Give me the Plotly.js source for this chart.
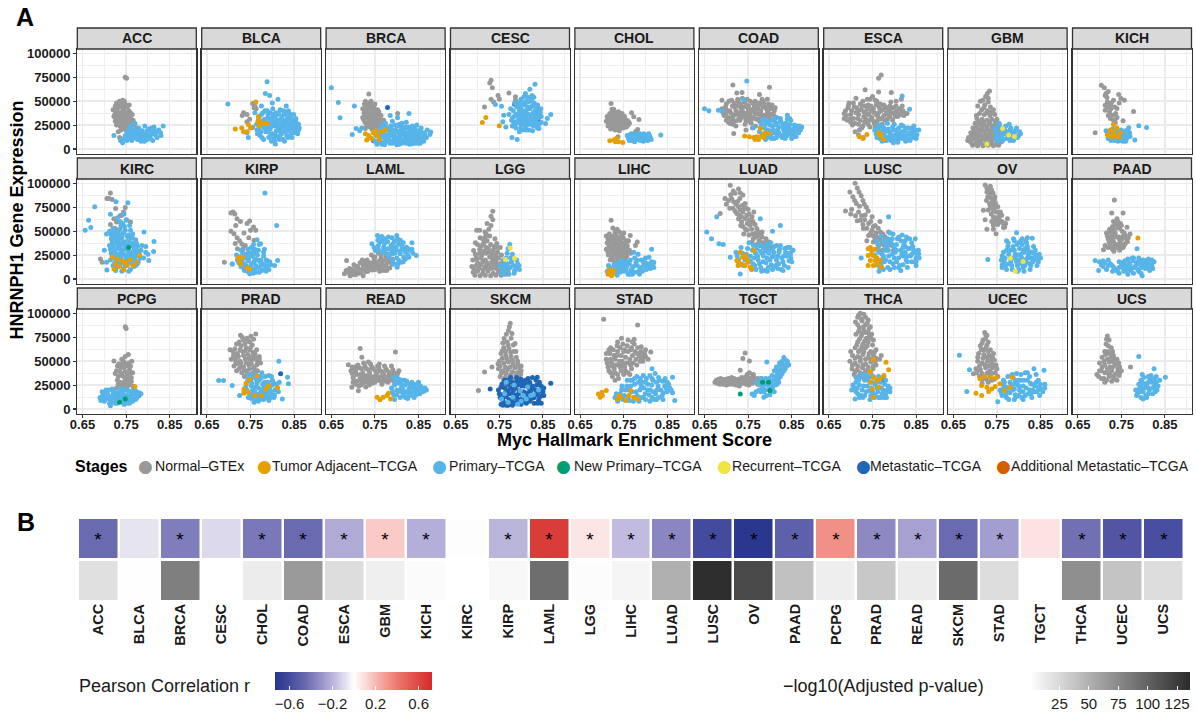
<!DOCTYPE html>
<html><head><meta charset="utf-8">
<script src="https://cdn.plot.ly/plotly-3.0.1.min.js"></script>
<style>html,body{margin:0;padding:0;background:#fff}#chart{width:1196px;height:721px}</style>
</head><body><div id="chart"></div>
<script>
// ---------------- DATA ----------------
const cancers = ['ACC','BLCA','BRCA','CESC','CHOL','COAD','ESCA','GBM','KICH','KIRC','KIRP','LAML','LGG','LIHC','LUAD','LUSC','OV','PAAD','PCPG','PRAD','READ','SKCM','STAD','TGCT','THCA','UCEC','UCS'];
const stageKeys = ['N','A','P','NP','R','M','AM'];
const stageLabels = ['Normal–GTEx','Tumor Adjacent–TCGA','Primary–TCGA','New Primary–TCGA','Recurrent–TCGA','Metastatic–TCGA','Additional Metastatic–TCGA'];
const stageColors = ['#999999','#E69F00','#56B4E9','#009E73','#F0E442','#1F66B5','#D55E00'];
// points: pairs of (enrichment score x1000, expression / 1000)
const ACC = {
 N:[728,48,735,50,742,51,748,47,738,44,730,42,745,43,752,44,756,40,726,38,734,38,741,39,749,38,758,36,722,34,730,33,737,34,744,35,751,33,760,32,766,30,725,29,733,29,740,30,748,29,755,28,762,27,770,25,728,25,736,24,744,25,752,24,760,22,738,20,747,21,755,19,735,12,748,75,751,74,720,41,757,46,764,36,732,18,745,31,739,27,753,30,742,46,733,45,
    725,45,739,48,746,50,731,36,744,41,754,37,727,31,735,31,743,33,750,27,758,30,732,27,746,26,757,24,764,28,741,22,750,20,724,36,760,38],
 P:[722,14,737,9,742,6.5,748,14,752,18,756,12,760,16,763,9,767,20,770,13,773,17,776,10,779,22,781,15,784,8,787,19,790,12,793,24,796,16,799,10,802,21,805,14,808,18,811,9,814,23,817,15,821,12,825,20,829,17,835,24,760,24,770,27,752,9,778,12,792,8,806,11,766,15,786,14,798,19,775,19,782,11,758,20,
    745,11,755,15,765,11,772,21,780,17,790,16,800,14,810,16,820,18,830,14,795,12,785,11,808,22,775,14,762,13,816,19]
};
const BLCA = {
 N:[755,47.5,758,43,763,42,734,38,731,35,748,31,742,28.5,755,22.5,742,36,760,45],
 A:[762,49,715,21,730,22,734,18,742,18,745,25.7,768,33.7,770,30,770,24,784,27,788,26.7,767,28.5,776,27,750,22],
 P:[698,47,788,70.4,784,58,794,56,813,52,832,45,807,5.2,745,12,742,17,775,45,800,48,760,38,765,20,768,30,772,14,775,36,778,25,780,10,783,40,785,18,788,32,790,22,792,12,795,38,797,28,799,16,801,42,803,24,805,9,807,34,809,19,811,29,813,13,815,38,817,24,819,31,821,16,823,27,825,10,827,36,829,21,831,30,833,14,835,25,837,40,839,19,841,33,843,27,845,12,847,22,849,36,851,17,853,29,855,24,857,20,860,26,795,21,810,24,820,22,830,26,800,32,815,19,825,30,805,27,790,27,840,24,770,22,782,31,850,30,835,34,812,36,798,8,828,8,843,16,862,22,818,41,
    764,26,770,34,774,18,778,38,782,22,786,28,790,36,794,13,798,24,802,36,806,16,810,30,814,22,818,14,822,34,826,24,830,18,834,30,838,22,842,36,846,28,850,20,854,32,858,16,780,30,790,18,800,28,812,26,824,20,836,26,848,25,796,32,808,38,820,26,832,38,844,31,856,27,804,12,816,10,836,12,776,12,788,40,826,40,860,20,766,16,772,26]
};
const BRCA = {
 N:[726,47,734,48,742,46,750,47,722,42,731,43,739,42,748,43,756,41,725,38,733,38,741,37,749,38,757,37,764,35,722,33,730,33,738,32,746,33,754,32,762,31,770,30,727,28,735,28,743,27,751,28,759,27,767,26,774,24,731,24,739,23,747,24,755,22,763,21,736,57.6,728,50,741,50,802,37,793,15.6,728,21.5,745,45,753,35,738,36,
    729,45,737,44,745,41,752,40,728,35,736,34,744,30,752,30,760,33,766,29,733,26,741,25,749,26,757,25,770,27,743,21,751,20,760,24,724,31,731,40,759,39,738,29],
 A:[728,16,731,9.4,739,12,746,17,756,14,765,18,774,20,742,11,735,14,760,10,752,19],
 P:[650,64,666,48.6,670,32.6,703,45,698,15.3,707,21.5,720,22,828,37,802,32.6,862,17,876,15.3,878,17.7,715,19,785,35,750,8,755,5,760,12,764,7,768,16,772,4.5,776,10,780,21,784,6,788,14,792,9,796,25,800,4.5,804,17,808,11,812,6,816,20,820,13,824,8,828,23,832,15,836,5.5,840,11,844,18,848,8,852,14,856,22,860,10,864,16,868,12,758,18,766,24,774,27,782,14,790,29,798,12,806,26,814,9,822,28,830,5,838,20,846,25,854,6,842,14,826,17,810,23,794,18,778,15,762,21,786,24,818,16,834,10,850,19,870,20,802,8,770,12,
    752,14,758,9,762,16,766,5,770,19,774,8,778,20,782,10,786,17,790,6,794,13,798,20,802,11,806,5,810,15,814,19,818,10,822,6,826,12,830,20,834,15,838,8,842,22,846,12,850,6,854,18,858,13,862,8,788,21,800,24,812,27,824,22,836,24,848,17,766,13,780,8,796,7,808,19,820,23,832,10,844,6,856,16,776,23,792,16,804,13,816,8,828,16,840,18,852,10,864,12],
 M:[779,43.4,747,8.7]
};
const CESC = {
 N:[731,71.8,728,69,734,64,716,44,731,52,737,49,747,56,750,52,772,58.6,787,54.5,787,51],
 A:[711,27.8,719,33,750,24.3],
 P:[832,67.7,820,62.5,868,36,860,32,856,26.7,760,35.4,758,28.5,779,12,791,10,741,46.5,755,44.8,765,23,841,21.5,825,56,810,58,800,52,778,30,782,40,785,48,788,22,791,35,794,44,797,27,800,52,803,38,805,20,808,46,811,31,813,25,816,42,819,35,822,50,825,28,828,38,831,45,834,31,837,22,840,40,843,34,846,28,780,24,790,28,796,18,802,30,810,24,818,20,826,19,833,25,799,43,807,55,815,49,829,54,838,46,820,42,784,34,812,38,836,37,794,37,823,32,806,34,776,42,845,42,772,36,
    780,32,786,26,790,44,793,30,796,40,799,22,802,46,804,28,807,40,810,34,812,50,814,28,817,36,820,26,822,44,825,36,828,30,830,48,832,40,835,28,838,34,841,26,844,38,798,34,808,28,818,30,828,24,838,42,815,44,805,48,795,48,824,52,812,20,800,26,788,36,783,28,846,34,826,45,816,54,832,34],
 M:[842,28.5,785,46.8]
};
const CHOL = {
 N:[712,34,718,37,725,39,732,38,739,36,746,37,752,34,710,29,716,31,722,32,729,33,736,31,743,30,750,28,757,30,763,27,714,24,721,26,728,27,735,25,742,24,749,22,756,23,720,21,730,20,740,19,760,25,721,47.5,723,41.6,727,41.6,768,37.8,773,33.7,785,30.9,782,20.5,777,18,765,14.6,737,12.8,733,34,745,33,
    715,27,719,36,726,35,735,35,742,33,748,31,755,27,760,29,718,29,724,28,731,29,738,27,745,27,752,25,726,23,733,22,740,22,747,25,714,32,729,37,738,39],
 P:[758,14,763,9,767,16,771,11,775,7.6,779,14,783,10,787,16,791,12,795,8,799,14,803,11,807,16,811,12,835,14.6,770,13,788,9,797,11,780,12,805,9,765,12,793,15,
    761,11,769,9,773,15,777,10,782,16,785,13,789,11,794,13,801,13,809,14,813,10,796,16,776,13],
 A:[718,8.7,727,9.4,733,11,738,7.6,748,6.9,731,7.6]
};
const COAD = {
 N:[690,42,695,35,700,47,705,28,708,40,712,51,715,33,718,44,722,24,725,38,728,49,731,30,734,42,737,53,740,35,743,26,746,46,749,38,752,29,755,50,758,41,761,33,764,45,767,24,770,37,773,48,776,29,779,40,782,52,785,34,788,44,791,27,794,38,797,47,800,31,803,42,806,36,810,40,814,33,700,38,710,32,720,36,730,45,740,44,750,42,760,48,770,44,780,32,790,46,700,30,715,26,735,33,755,34,775,36,795,34,745,30,725,45,765,38,785,49,715,67,736,59,724,58.6,799,64.5,776,57,690,51,794,52,717,16.3,709,26.7,760,22,745,20,
    693,38,698,44,703,33,706,50,711,37,714,45,719,29,722,40,726,52,729,34,733,47,738,39,742,49,747,33,751,45,754,37,757,27,762,41,766,50,769,31,772,42,777,46,781,36,784,44,788,35,792,42,796,39,799,44,802,36,805,46,809,35,812,43,700,41,718,48,732,38,748,52,764,33,780,48,796,29,712,28,726,30,742,37,758,31,774,31,808,30],
 P:[776,18,780,26,784,13,788,22,792,30,796,16,800,25,804,11,808,20,812,28,816,15,820,23,824,32,828,12,832,19,836,27,840,14,844,22,848,30,852,17,856,25,860,13,864,20,868,24,790,10,810,11,830,26,850,11,820,17,800,19,840,31,786,31,815,33,835,20,845,18,747,71,650,42,660,40,682,40.6,690,39.6,740,51.7,840,35.4,873,23,762,22.5,
    778,22,782,30,786,16,790,26,794,20,798,28,802,14,806,24,810,17,814,25,818,20,822,28,826,14,830,22,834,16,838,24,842,19,846,26,850,15,854,21,858,18,862,24,866,17,805,30,825,29,845,32,795,12,815,12,835,11,855,13,870,20],
 A:[742,13.5,753,12.8,763,12,770,12.8,774,10,781,14,789,17,797,16,778,21.5,772,11,786,12,766,10]
};
const ESCA = {
 N:[688,40,692,30,696,48,700,36,704,25,708,44,712,53,716,32,720,20,724,41,728,50,732,28,736,37,740,46,744,23,748,33,752,42,756,51,760,29,764,38,768,47,772,26,776,35,780,44,784,31,788,40,792,49,796,30,800,38,804,45,808,34,812,42,816,36,820,40,826,37,700,28,712,38,722,47,734,45,746,40,758,36,770,40,782,38,794,43,706,32,718,26,730,34,742,30,754,27,766,31,750,55,738,52,725,22,710,18,770,77.4,764,74,733,62,764,59.7,793,59,695,45.8,685,37,685,32,816,52,829,37,718,14.6,729,12.1,
    690,35,694,43,698,31,702,40,706,48,710,27,714,43,718,36,722,30,726,45,730,39,734,32,738,42,742,36,746,45,750,30,754,38,758,46,762,34,766,43,770,32,774,41,778,30,782,43,786,36,790,34,794,38,798,43,802,34,806,40,810,38,814,40,818,45,822,35,728,24,740,26,756,24,716,40,744,52,760,50,776,46,790,45,804,50],
 P:[755,20,760,12,764,25,768,16,772,8,776,22,780,13,784,27,788,18,792,9,796,23,800,14,804,20,808,7,812,17,816,25,820,11,824,19,828,14,832,22,836,9,840,17,844,12,848,20,852,15,790,13,812,11,826,8,800,26,770,19,845,24,818,55.5,835,41.6,856,19.8,798,6.6,
    758,16,762,21,766,11,770,24,774,16,778,18,782,9,786,21,790,17,794,14,798,20,802,9,806,16,810,22,814,13,818,18,822,14,826,22,830,10,834,17,838,13,842,20,846,16,850,11,820,24,808,12,796,10,786,12,776,9,840,22],
 A:[720,12.8,728,11,737,15.3,764,17,768,13.9,775,10,770,15]
};
const GBM = {
 N:[733,60.7,728,58,724,55,718,51,712,50,730,49,706,45,722,46,735,44,715,41,729,40,742,41,710,37,721,36,734,35,745,36,704,32,716,31,727,30,738,31,750,31,700,27,711,26,722,25,733,26,744,25,755,26,695,22,706,21,717,20,728,21,739,20,750,21,760,22,690,17,701,16,712,15,723,16,734,15,745,16,756,17,766,16,685,12,696,11,707,10,718,11,729,10,740,11,751,12,762,10,690,7,700,5,712,6,724,5,736,6,748,5,758,7,683,9,698,14,709,19,
    703,35,726,38,739,38,708,29,719,28,733,28,746,29,703,24,716,23,727,23,739,23,750,24,698,19,711,18,722,18,733,18,744,18,756,20,692,14,704,13,715,13,726,13,737,13,748,13,760,13,688,9,702,8,714,8,726,8,738,8,750,8,762,8,694,4,706,3.5,718,3.5,730,4,742,3.5,754,4,720,43,730,53,737,39],
 P:[745,22,750,14,755,27,760,18,765,10,770,24,775,15,780,20,785,12,790,17,795,22,800,14,804,16,758,12,768,19,778,26,788,9,752,8,772,11,783,17,
    748,18,757,23,762,15,767,21,773,18,777,12,782,22,787,15,792,19,797,12,802,18,762,9,780,9,748,11],
 R:[763,21.5,777,14.6,727,5.2,790,13]
};
const KICH = {
 N:[704,66.6,711,64,715,58,717,53.8,744,57,732,51,749,52.7,757,51,713,45.8,725,45.8,735,44,740,42.3,713,40.6,723,38.9,730,35.4,740,33,725,32,732,30,754,29.5,778,39.2,690,17,736,27.4,720,35,718,49,
    720,60,713,56,727,48,737,37,726,42,745,48,718,44,735,30],
 P:[715,19,720,11,727,16,734,9,740,18,745,12,750,20,754,8,758,15,762,11,766,18,770,13,738,10,748,14,756,10,730,21,742,8,760,19,790,24.3,808,22.5,781,9.4,767,22.2,
    718,16,724,12,731,14,737,17,744,16,751,13,757,12,763,15,769,17,726,9,748,9,760,8,735,12,753,17],
 A:[718,15,725,20,732,18,740,22,728,12.8,736,14,722,14,748,17,732,25.7,744,12]
};
const KIRC = {
 N:[714,90,706,84,711,84,718,83,726,73.7,748,74.8,744,70,740,66.7,752,61.4,760,59.7,728,59.7,714,57,725,52.7,733,51,721,49,737,59.7,730,40.4,732,35.8,691,21,695,17.5,736,66,722,63],
 P:[712,50,720,53,728,47,736,52,744,48,752,45,760,51,716,42,724,44,732,40,740,43,748,39,756,42,764,38,772,41,712,35,720,34,728,37,736,33,744,36,752,32,760,35,768,31,776,34,716,27,724,29,732,26,740,30,748,25,756,28,764,24,772,27,780,26,714,20,722,22,730,18,738,23,746,19,754,21,762,17,770,20,778,18,720,14,728,12,736,15,744,11,752,14,760,10,768,13,776,16,742,58,750,62,735,60,758,56,765,47,784,30,790,22,730,64,745,68,656,51,664,61.4,669,53.7,678,75.5,727,80.7,754,79.7,714,67.7,814,39.3,813,28.8,802,19.3,705,17.5,706,9.5,791,49,795,34,800,26,705,47,700,30,
    716,46,724,49,732,43,740,46,748,51,756,46,764,43,718,38,726,41,734,36,742,39,750,35,758,38,766,35,774,37,714,31,722,31,730,32,738,28,746,31,754,30,762,28,770,30,778,29,718,24,726,25,734,22,742,27,750,23,758,25,766,22,774,24,782,22,724,17,732,14,740,17,748,15,756,18,764,16,772,14,740,8,756,8,726,9,760,45,738,56,746,55,733,47,786,35,795,28],
 A:[718,22.8,730,21,726,15.8,734,13,722,10.5,748,17.5,759,20,766,14,774,17.5,781,24.6,741,19,752,14,744,9.5],
 NP:[756,33]
};
const KIRP = {
 N:[710,70,705,69,714,68,719,63,727,60,742,58,748,60.7,757,54.4,750,51,762,51,712,47.4,719,43,725,40,730,36.5,720,31.6,733,32,758,40.4,746,43,690,17.5,708,15.8,715,37,738,35,731,30,742,26.3,705,50,716,56,735,48],
 P:[718,25,723,17,728,30,733,12,738,22,743,8,748,27,752,16,756,6,760,21,764,12,768,30,772,18,776,9,780,24,784,14,788,19,792,10,796,15,740,14,750,10,762,27,770,7,774,14,758,10,745,19,766,20,730,19,786,8,783,90,810,56,812,19.3,805,14,773,36.9,765,41,755,28,708,15.8,782,31,
    720,20,726,23,732,27,736,16,740,26,746,22,750,13,754,24,758,18,762,14,766,25,770,12,774,20,778,16,782,10,786,20,790,14,794,18,744,31,752,33,760,31,748,5.5,762,7,736,9,728,13,780,28,757,36,770,36],
 A:[721,22,726,17.5,742,11.6,748,10.5,731,22.8,727,15.8]
};
const LAML = {
 N:[685,19.3,680,5.5,689,7,697,4.5,705,8.5,713,6,721,10,729,7.5,736,12,744,9.5,752,14,759,11.5,767,16,775,13.5,782,18,789,15.5,782,22.8,740,16,721,20,698,10,710,13,729,15,747,18,762,20,775,24,750,23,758,27,785,26.5,790,21,784,11.5,761,8,693,3.5,723,3.5,770,9,
    684,9,692,11,700,6,707,13,715,10,723,14,731,11,738,17,746,13,754,18,762,15,770,20,778,17,786,20,702,15,716,17,732,20,748,22,764,24,780,22,692,6,706,4.5,718,7,734,8,750,10,766,12,777,9,727,18,742,25,756,30,771,28,791,18],
 P:[756,45.6,766,44.5,781,44,800,45.6,808,40.4,757,40.4,743,36.8,751,29.8,770,33.3,787,35,799,33.3,811,35,822,33.3,830,29.8,845,24.6,828,22.8,816,22.8,805,19.3,793,15.8,801,12.3,778,26.3,766,28,789,26.3,772,37,820,28,808,26.3,790,29.8,780,31.6,810,17.5,762,38.6,795,40,835,38,
    760,43,773,42,789,43,802,42,815,38,748,33,758,35,765,40,779,39,792,37,804,37,816,31,826,32,837,27,758,31,774,31,785,32,797,30,812,31,825,25,815,18,800,22,790,20,782,23,770,30,803,16,796,27,807,29,820,21,835,31,790,33]
};
const LGG = {
 N:[735,70.9,731,65.6,722,58,731,56,698,50.9,705,50.9,717,49,712,42,691,29.8,715,38,722,40,700,36,708,34,720,33,730,36,738,34,695,26,705,27,715,29,726,28,736,30,746,28,689,20,698,21,708,22,718,20,728,23,738,21,748,22,758,19,687,13,697,14,707,15,717,13,727,14,737,15,747,14,757,12,767,14,690,7,700,8,712,6,724,8,736,6,748,7,760,6,770,8,728,45,740,42,720,47,744,37,752,33,
    726,52,735,62,718,44,706,43,695,38,705,31,725,32,735,26,745,33,700,17,712,18,722,17,733,18,743,18,753,16,762,11,692,10,703,11,713,10,723,11,733,11,743,11,752,9,765,5,694,4,706,3.5,718,4,730,3.5,742,4,754,4,697,24,710,25,731,23,742,25,755,25,720,27,712,36],
 P:[752,14,760,20,768,27,774,36,770,31.6,780,26,790,20,795,14,785,9,775,12,765,10,756,7,778,18,788,12,762,16,
    758,11,770,16,782,14,792,16,776,22,766,22,760,5,772,5,784,6,796,10,768,13],
 R:[775,32.3,785,21.8,764,20.4]
};
const LIHC = {
 N:[721,61.4,725,53.4,765,45.6,781,38.6,777,35,710,45,717,47,724,44,731,46,738,43,745,45,712,38,719,40,726,37,733,39,740,36,747,38,754,36,761,40,710,31,717,33,724,30,731,32,738,29,745,31,752,28,759,31,715,25,722,23,729,26,736,22,743,25,750,21,757,24,766,27,735,18,745,17,
    714,42,721,45,728,41,735,44,742,40,749,43,756,40,716,35,723,35,730,35,737,33,744,35,751,33,758,35,714,28,721,28,728,29,735,28,742,27,749,27,756,28,763,30,719,20,726,20,733,24,740,24,747,23,754,22,730,49,740,49,750,48,735,52],
 P:[712,8,718,12,724,6,730,10,736,14,742,7,748,11,754,15,760,5,766,9,772,13,778,17,784,8,790,12,796,16,802,10,808,14,814,18,819,12,745,19,760,18,775,22,770,5,790,20,800,22,728,16,755,9,735,4,814,31.2,808,22.8,819,17.5,773,28,783,26,
    715,14,721,9,727,13,733,7,739,11,745,15,751,8,757,13,763,16,769,11,775,7,781,14,787,10,793,8,799,13,805,16,811,11,817,15,750,18,765,20,780,20,795,19,738,17,764,5,786,5,800,17],
 A:[719,7,725,5.3,716,9.8,727,8.8,722,3.5,714,5]
};
const LUAD = {
 N:[709,98,728,94,720,89.5,738,87.8,697,84,705,82,717,80.7,743,79,728,75.5,686,68.4,724,68.4,747,66.7,759,65,735,59.7,754,56.2,770,52.7,747,50.9,782,49,766,43.9,791,42,798,38.6,759,38.6,778,35,801,33.3,728,63,755,61.4,732,72,763,70,740,47,772,45,785,38,805,31.6,750,73,715,74,726,81,760,47,738,55,775,40,710,88,700,78,
    716,92,732,90,712,84,731,84,722,78,737,77,708,74,720,71,745,74,738,70,752,68,729,67,743,63,761,60,733,56,748,58,766,57,744,52,758,52,774,49,752,46,768,48,782,44,762,42,776,40,792,37,770,36,785,33,796,33,757,58,735,65,741,74,753,62,780,45,789,36],
 P:[722,28,728,20,734,33,740,14,746,26,752,38,758,10,764,22,770,32,776,16,782,27,788,9,794,36,800,20,806,30,812,13,818,24,824,35,830,18,836,28,842,12,848,22,853,30,760,30,772,24,784,18,796,12,808,24,820,16,832,24,844,19,790,29,815,35,778,36,802,38,765,14,755,19,826,10,840,33,678,65,655,49,666,42,683,36.8,693,36,732,5.3,709,22.8,778,63,824,56,806,50,851,29.8,847,26,
    725,24,731,15,737,27,743,20,749,32,755,24,761,16,767,27,773,20,779,12,785,24,791,17,797,27,803,15,809,28,815,20,821,28,827,22,833,14,839,24,845,27,850,18,762,35,774,35,786,33,798,31,810,34,822,31,834,32,846,33,768,10,781,8,794,8,806,10,818,11,830,9,778,29,805,23,793,22,815,15],
 A:[732,28,743,24.6,747,21,724,19.3,735,15.8,728,17.5,755,12.3,743,14,727,14,750,17.5,758,10.5,737,22.8,763,29.8]
};
const LUSC = {
 N:[710,100,698,91,719,91,705,86,728,82,713,79,736,75,688,71,718,70,733,67,749,65,722,61.5,741,58,756,56,729,52.7,749,51,768,49,741,45.6,760,43.9,779,43.9,752,38.6,771,36.9,790,40.4,782,33.3,798,30,763,31.6,787,49,737,40,702,73,767,60,
    715,95,724,87,709,82,720,76,731,78,700,68,711,66,725,66,740,71,715,61,732,62,746,60,737,53,752,55,763,53,746,48,758,48,774,47,756,42,768,41,784,38,762,36,777,35,793,35,786,30,773,30,752,45,728,57],
 P:[755,25,760,15,765,35,770,20,775,10,780,30,785,42,790,18,795,26,800,12,805,36,810,22,815,30,820,15,825,40,830,24,835,32,840,18,845,28,850,22,855,30,770,45,790,48,810,44,800,32,820,33,775,24,795,36,840,38,785,12,815,9,765,8,830,12,850,14,805,18,780,38,760,40,825,28,787,65,724,22,848,42,856,26.3,797,47,
    758,20,762,30,767,12,772,26,777,18,782,34,787,24,792,38,797,16,802,28,807,42,812,14,817,26,822,36,827,20,832,32,837,24,842,34,847,18,852,26,857,22,775,40,795,42,815,40,835,42,765,28,785,30,805,30,825,34,845,30,780,20,800,22,820,24,840,26,770,16,790,10,810,12,830,18,850,18,818,46,828,44],
 A:[740,31.6,748,29.8,740,24.6,752,24.6,745,19.3,756,19.3,740,14,752,14,763,15.8,771,12.3,760,22,748,26,767,19.3,745,33,755,31]
};
const OV = {
 N:[723,98.3,735,97,731,93,741,90,729,86,739,82.5,747,79,735,75.5,719,71.9,742,71.9,753,70,761,66.7,742,64.9,750,61.4,758,59.7,774,63,742,56.2,727,52,748,47.4,765,53.7,733,79,727,91,745,86,752,75.5,756,66,768,54.4,737,68,745,60,
    727,95,738,93,733,89,744,83,736,85,726,82,740,78,746,75,730,72,738,75,748,70,758,70,738,60,747,64,755,63,762,60,752,57,742,52,765,58,770,58,723,62],
 P:[760,20,765,28,770,14,775,34,780,22,785,10,790,30,795,18,800,38,805,26,810,12,815,32,820,22,825,16,830,28,835,20,840,24,845,18,850,22,772,40,788,42,800,10,768,22,782,30,798,25,812,20,828,14,818,38,810,30,778,16,792,22,806,16,822,30,838,30,762,12,830,22,808,42,729,20.4,795,48.4,820,43,831,42.5,762,15,
    762,24,767,18,772,30,777,26,782,18,787,34,792,26,797,14,802,32,807,22,812,28,817,18,822,26,827,22,832,18,837,26,842,20,847,26,772,10,784,14,796,36,808,36,820,34,834,34,788,22,800,20,814,14,826,10,842,14,776,38,790,40,805,40,816,40,812,8,798,8],
 R:[781,21.8,810,18.2,792,8.1]
};
const PAAD = {
 N:[734,82.5,728,69,754,69,709,30.5,713,35,763,54,716,48,723,52,730,55,738,57,746,53,752,50,720,42,728,45,736,48,744,44,752,42,760,45,724,37,732,39,740,36,748,38,756,35,764,39,730,31,738,33,746,30,754,33,742,60,770,47,
    718,45,726,49,734,51,742,54,750,56,757,48,722,39,730,42,738,44,746,41,754,45,762,42,727,34,735,36,743,33,751,35,759,37,720,33,733,29,748,32,740,63,732,60,748,58,766,43],
 P:[700,18,708,13,716,10,725,16,733,12,741,8,750,14,758,19,764,10,770,15,775,22,780,12,785,17,790,8,795,14,800,20,805,11,810,16,815,9,820,14,825,18,765,5,778,6,790,19,760,14,772,9,745,18,755,11,800,13,812,21,786,31.6,798,3.5,690,19.3,698,8.8,708,19,720,20,
    704,15,712,17,720,14,729,14,737,10,745,12,753,17,761,11,767,17,772,12,777,19,783,14,788,10,792,16,797,12,802,17,807,14,812,12,818,17,822,11,778,22,765,21,756,8,745,6,730,8,790,22,805,19,820,20,795,6],
 A:[788,42.8]
};
const PCPG = {
 N:[748,86,750,84,722,50.2,763,49.8,735,12.3,730,45,740,52,748,55,755,48,735,40,745,43,758,41,725,37,740,35,752,36,762,33,730,30,745,28,758,28,738,25,752,23,745,20,728,22,765,24,740,47,755,57,
    733,47,744,50,752,45,760,45,728,40,738,38,748,39,756,37,765,38,732,34,746,33,755,32,736,28,750,30,762,29,742,24,756,25,732,26,749,26,738,44,749,47],
 P:[690,12,695,18,700,8,705,14,710,20,715,10,720,16,725,6,730,12,735,18,740,9,745,15,750,11,755,19,760,13,765,8,770,16,775,12,780,17,714,3.5,698,12,708,11,718,21,728,17,742,21,752,6,762,18,772,10,738,13,700,15,
    692,9,697,15,702,11,707,17,712,13,717,7,722,12,727,9,732,15,737,11,742,16,747,8,752,14,757,10,762,16,767,12,772,19,777,14,704,20,720,20,736,21,750,20,766,20,712,6,730,6,745,5,758,6,724,14,740,12,760,10,784,16],
 A:[770,23.5],
 M:[779,14,714,10.5],
 NP:[735,7,748,10.5]
};
const PRAD = {
 N:[762,78.3,727,77.2,742,74,751,76,734,72,748,70,718,68,728,66,740,64,754,67,764,62,710,60,720,58,732,60,744,57,756,59,706,52,716,53,726,50,738,52,750,50,760,54,770,55,712,45,722,47,734,44,746,46,758,43,718,40,730,38,742,40,754,37,766,40,736,34,773,48,703,62,
    731,75,745,71,757,73,724,70,737,68,750,64,714,63,726,62,738,61,748,62,760,58,711,56,722,55,734,56,746,53,756,52,766,50,716,49,728,48,740,48,752,47,764,46,724,42,736,40,748,42,760,40,742,36,730,44,770,52,754,55],
 P:[735,18,740,25,745,12,750,30,755,20,760,9,765,27,770,16,775,33,780,22,785,12,790,28,795,19,800,25,805,15,810,21,748,36,762,36,776,38,792,35,758,14,772,10,786,18,800,30,768,22,782,28,796,12,752,24,778,14,742,20,815,49.8,688,29.8,677,29.8,708,24.6,725,14,835,33.3,837,26.3,823,10.5,758,7,
    738,22,743,29,748,15,753,27,757,17,762,23,766,12,770,30,774,20,778,26,782,16,786,24,790,14,794,23,798,17,802,28,806,20,810,26,744,33,756,33,770,34,784,34,798,34,752,11,768,8,780,10,792,9,804,12,814,18,816,28,760,18,776,18,788,28,764,30],
 A:[735,21,740,27,748,31,765,34.4,745,17.5,760,14,785,21,792,24.6,812,22.1,735,16.5,775,14],
 M:[819,36.9]
};
const READ = {
 N:[716,63.2,689,46.3,797,59.7,720,54,697,22.8,695,40,703,43,711,46,719,42,727,45,735,41,743,44,751,40,759,43,767,39,775,42,783,38,791,41,700,33,708,36,716,32,724,35,732,31,740,34,748,30,756,33,764,29,772,32,780,28,788,31,800,35,805,40,705,26,713,24,721,27,729,23,737,25,712,19,760,47,735,49,
    698,37,706,40,714,43,722,38,730,42,738,38,746,42,754,37,762,40,770,36,778,40,786,35,794,38,802,37,702,30,710,29,718,30,726,32,734,28,742,30,750,28,758,30,766,26,774,29,782,30,790,34,716,36,732,35,748,34,764,34,780,34,708,45,724,48,740,47,756,45,772,45,788,45,718,25,728,28,744,27,700,28,793,29,698,44],
 P:[788,22,793,15,798,28,803,19,808,12,813,24,818,17,823,29,828,21,833,14,838,25,843,19,848,23,853,16,858,22,863,19,868,20,800,33,812,30,825,11,840,12,850,28,795,10,810,18,830,26,793,33,
    790,18,795,25,800,15,805,27,810,22,815,14,820,25,825,18,830,22,835,17,840,22,845,15,850,19,855,24,860,18,865,22,805,31,818,30,835,28,845,26,815,20,828,15,800,20,820,12,810,27,840,18,855,19],
 A:[755,12.3,762,9.8,769,12.3,781,16.5,778,14,786,10.5]
};
const SKCM = {
 N:[775,89.5,771,82,779,79,786,68.4,761,73.7,768,70,760,64,772,63,783,60,754,58,765,56,777,55,789,54,750,50,760,48,771,49,782,47,793,46,748,42,758,40,769,41,780,39,791,38,800,40,752,34,763,33,774,34,785,31,796,32,758,27,770,25,782,24,793,26,716,38.6,702,19.3,733,43.9,766,20,
    773,86,766,78,777,74,758,69,770,67,782,67,764,60,776,59,788,60,757,53,768,52,780,51,792,50,752,45,764,44,775,44,786,43,797,42,755,38,765,37,776,36,788,35,799,36,760,30,771,29,781,29,792,29,764,23,776,22,788,21,747,47,800,45,757,61],
 M:[748,20,752,12,756,26,760,7,764,17,768,30,772,10,776,22,780,4,784,15,788,27,792,9,796,19,800,31,804,13,808,24,812,6,816,17,820,28,824,11,828,21,832,15,836,25,840,9,844,19,848,14,852,22,758,15,770,19,782,11,794,25,806,8,818,22,830,6,842,28,754,5,766,4,790,33,810,30,826,33,846,6,868,27,729,21,837,33.3,
    750,16,754,23,758,10,762,22,766,13,770,26,774,16,778,8,782,19,786,22,790,13,794,16,798,10,802,24,806,18,810,14,814,26,818,12,822,19,826,24,830,12,834,20,838,16,842,12,846,24,850,18,762,30,778,28,798,27,816,32,834,30,786,6,800,5,820,8,838,6,770,4,758,4,806,28,852,14,790,29,776,33],
 P:[762,16,781,12.3,812,10.5,798,19,828,15,770,7,815,23,755,10.5,792,5,805,14,784,25,822,14,840,20,766,28,800,8]
};
const STAD = {
 N:[704,93.7,782,87.8,736,70,774,73,812,59.7,730,30,710,52,718,58,726,62,734,56,742,64,750,60,758,66,766,62,774,68,782,64,790,60,798,58,714,44,722,48,730,52,738,46,746,50,754,54,762,48,770,56,778,52,786,55,794,50,720,38,728,42,736,36,744,40,752,44,760,38,768,42,806,52,716,62,760,72,745,74,
    712,48,720,52,728,56,736,60,744,56,752,62,760,60,768,64,776,60,784,58,792,55,800,55,716,40,724,45,732,46,740,50,748,46,756,48,764,52,772,48,780,58,788,50,796,54,730,38,742,44,754,40,766,46,780,46,724,34,738,32,750,36,764,36,720,64,748,68,770,70,735,66,790,65,800,62,710,58],
 P:[730,12,736,8,742,16,748,10,754,20,760,13,766,24,772,8,778,18,784,28,790,12,796,22,802,32,808,15,814,25,820,10,826,20,832,30,838,14,844,24,850,18,856,22,862,17,770,30,780,34,795,35,810,8,825,28,840,29,790,24,805,20,818,18,758,30,746,24,830,12,850,28,815,42,862,33.3,867,8.8,
    733,16,739,11,745,20,751,14,757,24,763,9,769,18,775,26,781,14,787,20,793,28,799,16,805,26,811,20,817,30,823,16,829,24,835,20,841,17,847,22,853,26,859,20,775,32,788,32,800,28,815,32,830,33,845,32,765,30,785,8,800,10,815,12,825,10,760,20,795,12,840,10,810,35,822,37],
 A:[692,15.8,696,12.3,701,14,710,19.3,700,17.5,736,10.5,743,12.3,762,14,766,19.3,773,12.3,755,8.8,740,14,782,10.5]
};
const TGCT = {
 N:[674,28,680,30,685,26,690,31,695,28,700,25,705,32,710,29,715,26,720,31,725,28,730,24,735,33,740,29,745,26,750,32,755,29,760,27,765,31,770,30,775,27,780,32,787,30,793,29,702,29,712,33,722,25,732,29,742,33,752,25,762,34,688,28,698,31,708,27,718,29,728,31,738,27,743,58.6,738,52.7,753,50.2,732,40.4,753,38,748,36,762,36,
    677,30,683,29,687,32,693,26,697,30,703,31,707,29,713,29,717,32,723,30,727,26,733,27,737,30,743,31,747,29,753,28,757,31,763,29,767,28,772,32,778,29,784,28,790,31,678,27,692,29,706,26,720,27,734,31,748,30,758,33,772,26,682,31],
 P:[832,53.7,828,50,825,46,840,48,815,44,793,49.1,805,35,820,32,795,28,785,24,779,18,786,12.3,801,18,812,25,828,37,843,46,778,25,759,15.8,796,30,817,36,770,28,780,32,790,20,810,18,800,22,835,42,808,30,
    830,46,836,51,822,48,818,40,826,42,810,40,832,40,838,45,812,30,820,28,804,26,798,32,792,26,786,18,782,21,792,14,800,15,806,22,816,26,824,34,775,20,768,18,764,14,790,32,814,34,840,50,826,38,798,24],
 NP:[732,15.8,797,28,800,19.3,783,28]
};
const THCA = {
 N:[722,100,730,99,716,96,740,93,711,91,726,92,734,88,745,86,720,85,730,82,740,80,712,78,724,76,736,74,748,78,716,70,728,68,740,70,752,72,710,64,722,62,734,64,746,60,758,62,704,56,716,55,728,57,740,54,752,56,698,50,710,48,722,50,734,47,746,49,758,46,703,42,715,41,727,43,739,40,751,42,708,36,720,35,732,37,744,34,766,52,770,56,700,60,756,50,
    718,98,734,96,724,94,738,90,716,88,729,86,742,84,718,81,735,80,726,79,743,76,720,73,732,71,746,74,714,67,726,65,738,66,750,67,718,60,730,60,742,58,754,59,710,53,722,53,734,52,746,52,758,53,704,46,716,45,728,46,740,44,752,45,710,39,722,38,734,40,746,38,740,33,728,33],
 P:[705,25,712,18,718,30,724,14,730,24,736,35,742,19,748,28,754,12,760,22,766,31,772,16,778,26,784,20,790,18,710,10.5,715,22,728,12,740,30,752,34,764,12,776,34,746,14,758,28,770,22,735,18,722,34,702,20,782,12,
    708,22,712,28,716,16,720,25,726,20,732,30,738,24,744,34,750,18,756,26,762,18,768,28,774,20,780,30,786,24,720,12,732,14,744,10,756,15,768,12,780,16,728,36,748,22,764,34,776,12,712,33,790,22],
 A:[752,52,745,38.6,752,33,760,29.8,781,48.8,787,41,776,35,768,31.6,764,22.8,749,21,752,12.3,745,28],
 M:[775,29.8,774,14]
};
const UCEC = {
 N:[722,80,727,77,718,72,730,70,712,66,725,64,735,62,708,58,720,57,732,56,740,54,706,50,716,48,728,50,738,47,748,46,702,42,712,41,724,43,734,40,746,38,710,34,722,33,734,35,744,31,752,34,696,36.9,716,27,730,28,720,62,742,58,
    724,74,716,69,727,67,714,62,730,60,706,54,718,53,728,54,736,51,744,51,710,45,722,46,730,45,740,43,704,38,716,37,728,38,738,37,750,42,716,31,726,31,738,30,724,78],
 P:[757,20,762,14,767,28,772,18,777,10,782,24,787,33,792,15,797,26,802,20,807,12,812,30,817,22,822,16,827,27,832,20,837,24,842,18,847,23,852,21,860,22,775,34,795,37,815,38,800,14,790,21,810,18,830,12,780,17,845,30,770,23,825,34,805,30,765,22,664,56.2,687,41,681,18.2,752,7.7,858,40.4,835,42,
    760,17,765,26,770,14,775,22,780,28,785,20,790,26,795,13,800,24,805,18,810,24,815,14,820,30,825,20,830,26,835,18,840,28,845,20,850,26,855,18,785,36,805,36,820,38,840,36,772,12,790,10,810,10,828,16,848,14,800,30,765,30,860,26,792,30],
 A:[711,31.6,722,33.9,737,32.9,749,32.9,785,33.3,715,24.6,727,22.8,738,21,746,23.5,757,26.3,768,19.3,780,22.8,702,16.5,715,14,731,18.2]
};
const UCS = {
 N:[718,76.2,722,72,715,68,727,64,712,60,724,58,732,56,706,54,718,52,730,50,740,52,700,48,712,46,724,44,736,46,746,44,704,40,716,38,728,40,740,38,750,40,698,34,710,32,722,34,734,32,745,35,712,28,728,29,771,43.9,694,36,
    716,73,720,66,730,60,714,57,726,54,736,52,710,50,722,49,734,49,744,48,706,44,718,42,730,44,742,42,700,40,712,38,724,38,736,36,746,38,704,32,716,30,730,34,740,30,720,60],
 P:[790,55,825,42,851,33.3,805,26.3,795,30,815,32,830,28,800,18,812,22,822,16,785,14,792,22,808,12,818,35,832,20,783,20,798,36,838,30,812,28,800,10.5,826,24,795,25,
    787,16,793,18,797,20,803,22,808,26,814,20,820,28,826,32,834,24,812,16,816,30,822,22,828,18,806,14,798,28,790,26,802,33,812,34,830,34,795,12]
};
const panelSets = [ACC,BLCA,BRCA,CESC,CHOL,COAD,ESCA,GBM,KICH,KIRC,KIRP,LAML,LGG,LIHC,LUAD,LUSC,OV,PAAD,PCPG,PRAD,READ,SKCM,STAD,TGCT,THCA,UCEC,UCS];

// Panel B
const pearsonR = [-0.45,-0.07,-0.38,-0.10,-0.40,-0.45,-0.23,0.15,-0.22,-0.005,-0.20,0.65,0.07,-0.18,-0.35,-0.60,-0.72,-0.50,0.33,-0.34,-0.26,-0.45,-0.27,0.08,-0.43,-0.55,-0.58];
const negLog10P = [20,0.5,82,0.3,12,65,22,10,2.6,0.1,4.5,93,2,6.4,51,134,116,40,11,35,12,95,22,0.2,72,38,22];
const signifMark = ['*','','*','','*','*','*','*','*','','*','*','*','*','*','*','*','*','*','*','*','*','*','','*','*','*'];
const rTicks = [-0.6,-0.2,0.2,0.6];
const rTickText = ['−0.6','−0.2','0.2','0.6'];
const pTicks = [25,50,75,100,125];

// ---------------- BUILD ----------------
const W=1196,H=721;
const FONT='Liberation Sans, Arial, Helvetica, sans-serif';
const drawOrder=['N','M','P','A','NP','R','AM'];
const colorOf = {}; stageKeys.forEach((k,i)=>colorOf[k]=stageColors[i]);
const X=p=>p/W, Y=p=>1-p/H;
const traces=[], layout={width:W,height:H,margin:{l:0,r:0,t:0,b:0},paper_bgcolor:'#fff',plot_bgcolor:'#fff',showlegend:false,shapes:[],annotations:[],font:{family:FONT}};
function ann(text,xp,yp,opt){return Object.assign({text:text,x:X(xp),y:Y(yp),xref:'paper',yref:'paper',showarrow:false,xanchor:'center',yanchor:'middle',font:{family:FONT,size:14,color:'#1a1a1a'}},opt||{});}

cancers.forEach((name,k)=>{
  const c=k%9, r=Math.floor(k/9);
  const left=77.3+124.4*c, right=left+119, top=49+130*r, bottom=154+130*r;
  const id=k===0?'':String(k+1);
  const d=panelSets[k];
  drawOrder.forEach(s=>{
    if(!d[s]) return;
    const xs=[],ys=[];
    for(let i=0;i<d[s].length;i+=2){xs.push(d[s][i]/1000);ys.push(d[s][i+1]*1000);}
    traces.push({type:'scatter',mode:'markers',x:xs,y:ys,xaxis:'x'+id,yaxis:'y'+id,
      marker:{color:colorOf[s],size:5,line:{width:0}},hoverinfo:'skip',showlegend:false});
  });
  const tf={family:FONT,size:13,color:'#1a1a1a',weight:'bold'};
  layout['xaxis'+id]={domain:[X(left),X(right)],anchor:'y'+id,range:[0.638,0.911],tick0:0.65,dtick:0.1,tickformat:'.2f',
    showticklabels:r===2,ticks:r===2?'outside':'',ticklen:3,tickwidth:1.1,tickcolor:'#333',tickfont:tf,ticklabelstandoff:-5,
    showline:true,mirror:true,linecolor:'#333',linewidth:1.3,showgrid:true,gridcolor:'#EBEBEB',gridwidth:1.4,zeroline:false,
    minor:{dtick:0.05,tick0:0.65,showgrid:true,gridcolor:'#EFEFEF',gridwidth:1,ticks:''},fixedrange:true};
  layout['yaxis'+id]={domain:[Y(bottom),Y(top)],anchor:'x'+id,range:[-5200,104500],tick0:0,dtick:25000,tickformat:'d',
    showticklabels:c===0,ticks:c===0?'outside':'',ticklen:3,tickwidth:1.1,tickcolor:'#333',tickfont:tf,
    showline:true,mirror:true,linecolor:'#333',linewidth:1.3,showgrid:true,gridcolor:'#EBEBEB',gridwidth:1.4,zeroline:false,
    minor:{dtick:12500,tick0:0,showgrid:true,gridcolor:'#EFEFEF',gridwidth:1,ticks:''},fixedrange:true};
  layout.shapes.push({type:'rect',xref:'paper',yref:'paper',x0:X(left),x1:X(right),y0:Y(49+130*r),y1:Y(28+130*r),
    fillcolor:'#D9D9D9',line:{color:'#333',width:1.3}});
  layout.annotations.push(ann(name,(left+right)/2,38.5+130*r,{font:{family:FONT,size:14,color:'#1a1a1a',weight:'bold'}}));
});

// heatmap (panel B)
const rScale=[[0,'#26358c'],[0.0925,'#444b9e'],[0.1952,'#6a6ab0'],[0.2979,'#9894ca'],[0.4007,'#cbc6e4'],[0.5034,'#ffffff'],[0.6062,'#f9cac8'],[0.7089,'#f3998f'],[0.8116,'#e96b62'],[1,'#d42a2a']];
const gScale=[[0,'#ffffff'],[1,'#2b2b2b']];
const cbFont={family:FONT,size:15,color:'#1a1a1a'};
traces.push({type:'heatmap',x:cancers,y:['r'],z:[pearsonR],text:[signifMark],texttemplate:'%{text}',
  textfont:{family:FONT,size:19,color:'#000'},colorscale:rScale,zmin:-0.735,zmax:0.725,xgap:2.5,xaxis:'x28',yaxis:'y28',hoverinfo:'skip',
  colorbar:{orientation:'h',x:X(353.5),xanchor:'center',y:Y(672),yanchor:'top',len:157,lenmode:'pixels',thickness:18,thicknessmode:'pixels',
    xpad:0,ypad:0,outlinewidth:0,tickmode:'array',tickvals:rTicks,ticktext:rTickText,ticks:'inside',ticklen:4,tickcolor:'#fff',tickwidth:1,tickfont:cbFont}});
traces.push({type:'heatmap',x:cancers,y:['p'],z:[negLog10P],colorscale:gScale,zmin:0,zmax:136,xgap:2.5,xaxis:'x28',yaxis:'y29',hoverinfo:'skip',
  colorbar:{orientation:'h',x:X(1110),xanchor:'center',y:Y(672),yanchor:'top',len:160,lenmode:'pixels',thickness:18,thicknessmode:'pixels',
    xpad:0,ypad:0,outlinewidth:0,tickmode:'array',tickvals:pTicks,ticks:'inside',ticklen:4,tickcolor:'#fff',tickwidth:1,tickfont:cbFont}});
layout.xaxis28={domain:[X(78),X(1184)],anchor:'y29',type:'category',tickangle:-90,ticks:'',showline:false,showgrid:false,zeroline:false,
  tickfont:{family:FONT,size:14.5,color:'#1a1a1a',weight:'bold'},fixedrange:true};
layout.yaxis28={domain:[Y(558),Y(519)],anchor:'x28',visible:false,fixedrange:true};
layout.yaxis29={domain:[Y(600),Y(561)],anchor:'x28',visible:false,fixedrange:true};

// titles and labels
layout.annotations.push(ann('A',25,17,{font:{family:FONT,size:25,color:'#000',weight:'bold'}}));
layout.annotations.push(ann('B',26,522,{font:{family:FONT,size:25,color:'#000',weight:'bold'}}));
layout.annotations.push(ann('HNRNPH1 Gene Expression',17,220.5,{textangle:-90,font:{family:FONT,size:18,color:'#000',weight:'bold'}}));
layout.annotations.push(ann('Myc Hallmark Enrichment Score',634.5,440,{font:{family:FONT,size:18,color:'#000',weight:'bold'}}));
layout.annotations.push(ann('Pearson Correlation r',77,686,{xanchor:'left',font:{family:FONT,size:18,color:'#1a1a1a'}}));
layout.annotations.push(ann('−log10(Adjusted p-value)',781,686,{xanchor:'left',font:{family:FONT,size:18,color:'#1a1a1a'}}));

// legend
const legendDotX=[145,264,439,563,724,863,1003];
const legendTextX=[153,270,447,572,730,868,1009];
layout.annotations.push(ann('Stages',73,466,{xanchor:'left',font:{family:FONT,size:16,color:'#000',weight:'bold'}}));
stageLabels.forEach((lab,i)=>{
  layout.annotations.push(ann('●',legendDotX[i],466,{font:{family:'DejaVu Sans',size:17,color:stageColors[i]}}));
  layout.annotations.push(ann(lab,legendTextX[i],466,{xanchor:'left',font:{family:FONT,size:14.1,color:'#1a1a1a'}}));
});

Plotly.newPlot('chart',traces,layout,{staticPlot:true,displayModeBar:false});
</script></body></html>
